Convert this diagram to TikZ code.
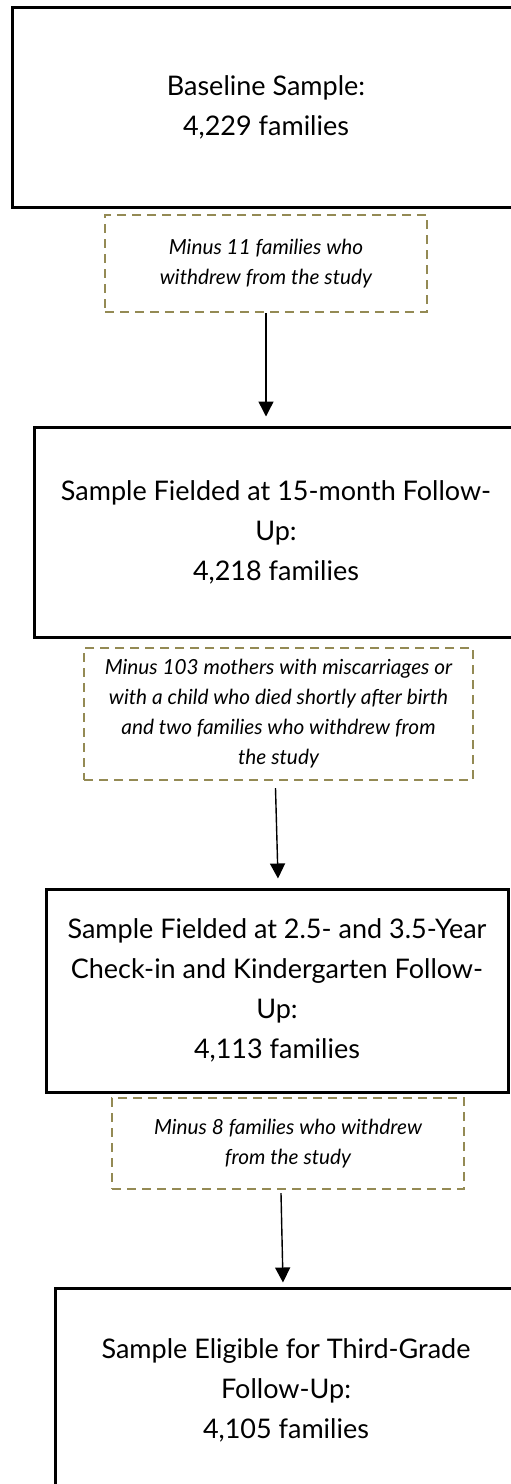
\documentclass[tikz,border=0pt]{standalone}
\usepackage{fontspec}
\setmainfont{Lato}
\usepackage{tikz}
\usetikzlibrary{arrows.meta}
\usetikzlibrary{positioning}
\definecolor{dropolive}{HTML}{948A54}
\tikzset{
  stagebox/.style={draw=black,line width=3pt,fill=white,inner sep=0pt,align=center,
    font=\fontsize{27}{40}\selectfont},
  dropbox/.style={draw=dropolive,line width=2.4pt,dash pattern=on 9pt off 6pt,inner sep=0pt,
    align=center,font=\fontsize{20.8}{30}\selectfont\itshape},
  flowarrow/.style={line width=1.4pt,-{Triangle[width=15pt,length=15pt]}}
}
\begin{document}
\begin{tikzpicture}[x=1pt,y=-1pt]
\useasboundingbox[fill=white] (0,0) rectangle (511,1484);

% stages
\node[stagebox,minimum width=508pt,minimum height=200pt] (base) at (266,107)
  {Baseline Sample:\\4,229 families};
\node[stagebox,minimum width=484pt,minimum height=210pt] (fifteen) at (276,532)
  {Sample Fielded at 15-month Follow-\\Up:\\4,218 families};
\node[stagebox,minimum width=462pt,minimum height=203pt] (kinder) at (277,990.5)
  {Sample Fielded at 2.5- and 3.5-Year\\Check-in and Kindergarten Follow-\\Up:\\4,113 families};
\node[stagebox,minimum width=462pt,minimum height=204pt] (third) at (286,1390)
  {Sample Eligible for Third-Grade\\Follow-Up:\\4,105 families};

% drop-outs
\node[dropbox,minimum width=322pt,minimum height=97pt] (dropA) at (266,263.5)
  {Minus 11 families who\\withdrew from the study};
\node[dropbox,minimum width=389pt,minimum height=132pt] (dropB) at (278.5,714)
  {Minus 103 mothers with miscarriages or\\with a child who died shortly after birth\\and two families who withdrew from\\the study};
\node[dropbox,minimum width=352pt,minimum height=91pt] (dropC) at (288,1143.5)
  {Minus 8 families who withdrew\\from the study};

\draw[flowarrow] (dropA.south) -- ([yshift=9pt]dropA.south |- fifteen.north);
\draw[flowarrow] ([xshift=-3pt,yshift=-7pt]dropB.south) -- ([xshift=1pt,yshift=9pt]kinder.north);
\draw[flowarrow] ([xshift=-7pt,yshift=-3pt]dropC.south) -- ([xshift=-3pt,yshift=4pt]third.north);
\end{tikzpicture}
\end{document}
